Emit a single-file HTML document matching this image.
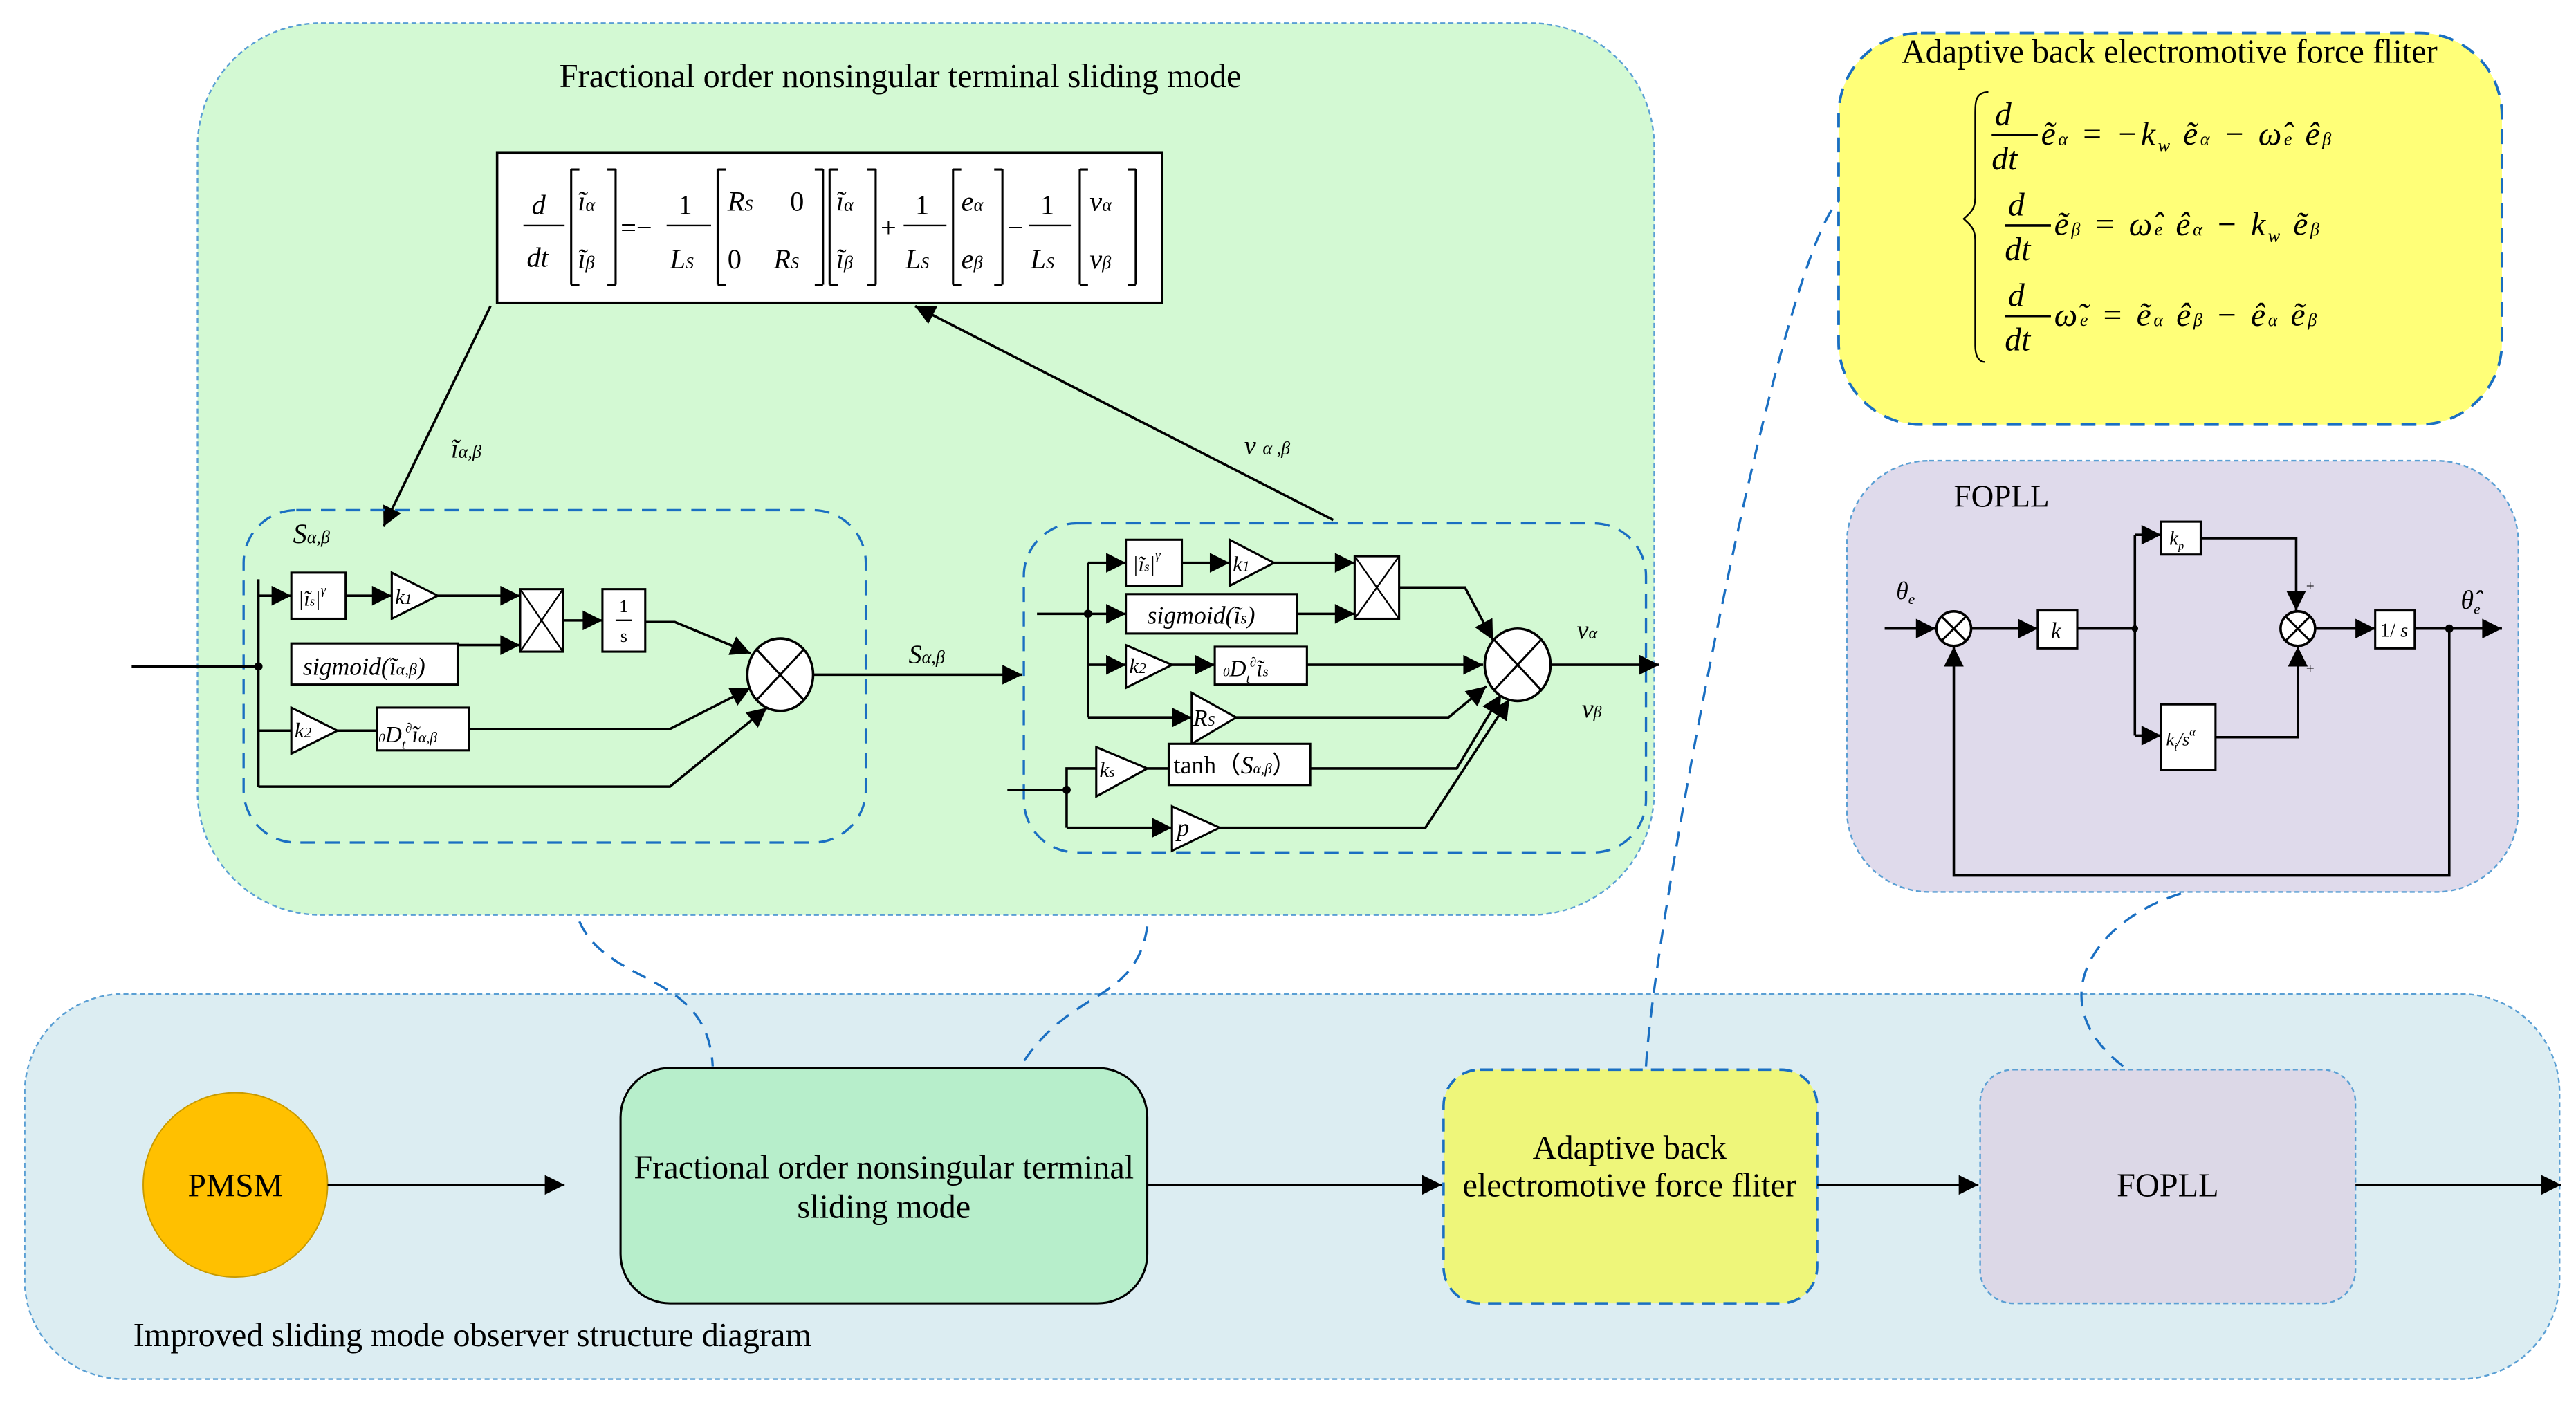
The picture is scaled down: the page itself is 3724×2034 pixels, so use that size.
<!DOCTYPE html>
<html><head><meta charset="utf-8"><style>
html,body{margin:0;padding:0;background:#fff;}
svg{display:block;}
text{font-family:"Liberation Serif",serif;fill:#000;}
.i{font-style:italic;}
</style></head><body>
<svg width="3724" height="2034" viewBox="0 0 1565 855" preserveAspectRatio="none" xmlns="http://www.w3.org/2000/svg">
<defs>
<marker id="a" viewBox="0 0 10 10" refX="10" refY="5" markerWidth="14" markerHeight="12" markerUnits="userSpaceOnUse" orient="auto"><path d="M0,0L10,5L0,10z" fill="#000"/></marker>
</defs>
<rect width="1565" height="855" fill="#fff"/>

<rect x="120" y="14" width="885" height="542" rx="75" fill="#d3f9d3" stroke="#5a9fd4" stroke-width="1" stroke-dasharray="3,2"/>
<rect x="1117" y="20" width="403" height="238" rx="50" fill="#ffff78" stroke="#1a6fc2" stroke-width="1.6" stroke-dasharray="9,6"/>
<rect x="1122" y="280" width="408" height="262" rx="50" fill="#dfdaeb" stroke="#5a9fd4" stroke-width="1" stroke-dasharray="3,2"/>
<rect x="15" y="604" width="1540" height="234" rx="60" fill="#dcedf2" stroke="#5a9fd4" stroke-width="1" stroke-dasharray="3,2"/>

<g fill="none" stroke="#1a6fc2" stroke-width="1.4" stroke-dasharray="9,6">
<path d="M352,560 C370,600 430,590 433,648"/>
<path d="M697,563 C690,610 650,600 620,648"/>
<path d="M1000,648 C1005,560 1080,160 1117,122"/>
<path d="M1325,543 C1270,560 1240,610 1290,648"/>
</g>

<text x="547" y="53" font-size="20.3" text-anchor="middle">Fractional order nonsingular terminal sliding mode</text>

<rect x="302" y="93" width="404" height="91" fill="#fff" stroke="#000" stroke-width="1.5"/>
<g font-size="17">
<text x="323" y="130" class="i">d</text><line x1="318" y1="137" x2="343" y2="137" stroke="#000"/><text x="320" y="162" class="i">dt</text>
<path d="M347,103v70M347,103h5M347,173h5M374,103v70M374,103h-5M374,173h-5" stroke="#000" fill="none" stroke-width="1.3"/>
<text x="351" y="128" class="i">ĩ<tspan font-size="11">α</tspan></text><text x="351" y="163" class="i">ĩ<tspan font-size="11">β</tspan></text>
<text x="377" y="144">=−</text>
<text x="412" y="130">1</text><line x1="405" y1="137" x2="432" y2="137" stroke="#000"/><text x="407" y="163" class="i">L<tspan font-size="10">S</tspan></text>
<path d="M436,103v70M436,103h5M436,173h5M500,103v70M500,103h-5M500,173h-5" stroke="#000" fill="none" stroke-width="1.3"/>
<text x="442" y="128" class="i">R<tspan font-size="10">S</tspan></text><text x="480" y="128">0</text>
<text x="442" y="163">0</text><text x="470" y="163" class="i">R<tspan font-size="10">S</tspan></text>
<path d="M504,103v70M504,103h5M504,173h5M532,103v70M532,103h-5M532,173h-5" stroke="#000" fill="none" stroke-width="1.3"/>
<text x="508" y="128" class="i">ĩ<tspan font-size="11">α</tspan></text><text x="508" y="163" class="i">ĩ<tspan font-size="11">β</tspan></text>
<text x="535" y="144">+</text>
<text x="556" y="130">1</text><line x1="549" y1="137" x2="575" y2="137" stroke="#000"/><text x="550" y="163" class="i">L<tspan font-size="10">S</tspan></text>
<path d="M579,103v70M579,103h5M579,173h5M609,103v70M609,103h-5M609,173h-5" stroke="#000" fill="none" stroke-width="1.3"/>
<text x="584" y="128" class="i">e<tspan font-size="11">α</tspan></text><text x="584" y="163" class="i">e<tspan font-size="11">β</tspan></text>
<text x="612" y="144">−</text>
<text x="632" y="130">1</text><line x1="625" y1="137" x2="651" y2="137" stroke="#000"/><text x="626" y="163" class="i">L<tspan font-size="10">S</tspan></text>
<path d="M656,103v70M656,103h5M656,173h5M690,103v70M690,103h-5M690,173h-5" stroke="#000" fill="none" stroke-width="1.3"/>
<text x="662" y="128" class="i">v<tspan font-size="11">α</tspan></text><text x="662" y="163" class="i">v<tspan font-size="11">β</tspan></text>
</g>

<g stroke="#000" stroke-width="1.5" fill="none">
<line x1="298" y1="186" x2="233" y2="320" marker-end="url(#a)"/>
<line x1="810" y1="316" x2="556" y2="186" marker-end="url(#a)"/>
</g>
<text x="274" y="278" font-size="16" class="i">ĩ<tspan font-size="11">α,β</tspan></text>
<text x="756" y="276" font-size="16" class="i">v<tspan font-size="11" dx="4">α ,β</tspan></text>

<rect x="148" y="310" width="378" height="202" rx="32" fill="none" stroke="#1a6fc2" stroke-width="1.4" stroke-dasharray="9,6"/>
<text x="178" y="330" font-size="17" class="i">S<tspan font-size="11">α,β</tspan></text>
<g stroke="#000" stroke-width="1.5" fill="none">
<line x1="80" y1="405" x2="157" y2="405"/>
<line x1="157" y1="352" x2="157" y2="478"/>
<line x1="157" y1="362" x2="177" y2="362" marker-end="url(#a)"/>
<line x1="210" y1="362" x2="238" y2="362" marker-end="url(#a)"/>
<line x1="266" y1="362" x2="316" y2="362" marker-end="url(#a)"/>
<line x1="278" y1="392" x2="316" y2="392" marker-end="url(#a)"/>
<line x1="342" y1="377" x2="366" y2="377" marker-end="url(#a)"/>
<polyline points="392,378 410,378 456,397" marker-end="url(#a)"/>
<line x1="157" y1="444" x2="177" y2="444"/>
<line x1="205" y1="444" x2="229" y2="444"/>
<polyline points="285,443 407,443 456,418" marker-end="url(#a)"/>
<polyline points="157,478 407,478 466,430" marker-end="url(#a)"/>
<line x1="494" y1="410" x2="621" y2="410" marker-end="url(#a)"/>
</g>
<circle cx="157" cy="405" r="2.5" fill="#000"/>
<rect x="177" y="348" width="33" height="28" fill="#fff" stroke="#000" stroke-width="1.3"/>
<text x="181" y="368" font-size="13" class="i">|ĩ<tspan font-size="8">s</tspan>|<tspan font-size="8" dy="-7">γ</tspan></text>
<path d="M238,348L266,362L238,376z" fill="#fff" stroke="#000" stroke-width="1.3"/>
<text x="240" y="367" font-size="13" class="i">k<tspan font-size="9">1</tspan></text>
<rect x="316" y="358" width="26" height="38" fill="#fff" stroke="#000" stroke-width="1.3"/>
<path d="M316,358L342,396M342,358L316,396" stroke="#000"/>
<rect x="366" y="358" width="26" height="38" fill="#fff" stroke="#000" stroke-width="1.3"/>
<text x="379" y="372" font-size="11" text-anchor="middle">1</text><line x1="374" y1="377" x2="384" y2="377" stroke="#000"/><text x="379" y="390" font-size="11" text-anchor="middle">s</text>
<rect x="177" y="391" width="101" height="25" fill="#fff" stroke="#000" stroke-width="1.3"/>
<text x="184" y="410" font-size="15" class="i">sigmoid(ĩ<tspan font-size="10">α,β</tspan>)</text>
<path d="M177,430L205,444L177,458z" fill="#fff" stroke="#000" stroke-width="1.3"/>
<text x="179" y="448" font-size="13" class="i">k<tspan font-size="9">2</tspan></text>
<rect x="229" y="430" width="56" height="26" fill="#fff" stroke="#000" stroke-width="1.3"/>
<text x="230" y="451" font-size="14" class="i"><tspan font-size="8">0</tspan>D<tspan font-size="8" dy="4">t</tspan><tspan font-size="8" dy="-10">∂</tspan><tspan dy="6">ĩ</tspan><tspan font-size="9">α,β</tspan></text>
<ellipse cx="474" cy="410" rx="20" ry="22" fill="#fff" stroke="#000" stroke-width="1.5"/>
<path d="M460,395L488,425M488,395L460,425" stroke="#000" stroke-width="1.3"/>
<text x="552" y="403" font-size="16" class="i">S<tspan font-size="11">α,β</tspan></text>

<rect x="622" y="318" width="378" height="200" rx="32" fill="none" stroke="#1a6fc2" stroke-width="1.4" stroke-dasharray="9,6"/>
<g stroke="#000" stroke-width="1.5" fill="none">
<line x1="630" y1="373" x2="661" y2="373"/>
<line x1="661" y1="342" x2="661" y2="436"/>
<line x1="661" y1="342" x2="684" y2="342" marker-end="url(#a)"/>
<line x1="718" y1="342" x2="747" y2="342" marker-end="url(#a)"/>
<line x1="774" y1="342" x2="823" y2="342" marker-end="url(#a)"/>
<line x1="661" y1="373" x2="684" y2="373" marker-end="url(#a)"/>
<line x1="788" y1="373" x2="823" y2="373" marker-end="url(#a)"/>
<polyline points="850,357 890,357 907,389" marker-end="url(#a)"/>
<line x1="661" y1="404" x2="684" y2="404" marker-end="url(#a)"/>
<line x1="712" y1="404" x2="738" y2="404" marker-end="url(#a)"/>
<line x1="794" y1="404" x2="901" y2="404" marker-end="url(#a)"/>
<line x1="661" y1="436" x2="724" y2="436" marker-end="url(#a)"/>
<polyline points="751,436 880,436 903,417" marker-end="url(#a)"/>
<line x1="612" y1="480" x2="648" y2="480"/>
<polyline points="648,480 648,467 666,467"/>
<line x1="697" y1="467" x2="710" y2="467"/>
<polyline points="796,467 885,467 912,422" marker-end="url(#a)"/>
<line x1="648" y1="480" x2="648" y2="503"/>
<line x1="648" y1="503" x2="712" y2="503" marker-end="url(#a)"/>
<polyline points="741,503 866,503 917,425" marker-end="url(#a)"/>
<line x1="942" y1="404" x2="1008" y2="404" marker-end="url(#a)"/>
</g>
<circle cx="661" cy="373" r="2.5" fill="#000"/>
<circle cx="648" cy="480" r="2.5" fill="#000"/>
<rect x="684" y="328" width="34" height="28" fill="#fff" stroke="#000" stroke-width="1.3"/>
<text x="688" y="347" font-size="13" class="i">|ĩ<tspan font-size="8">s</tspan>|<tspan font-size="8" dy="-7">γ</tspan></text>
<path d="M747,328L774,342L747,356z" fill="#fff" stroke="#000" stroke-width="1.3"/>
<text x="749" y="347" font-size="13" class="i">k<tspan font-size="9">1</tspan></text>
<rect x="823" y="338" width="27" height="38" fill="#fff" stroke="#000" stroke-width="1.3"/>
<path d="M823,338L850,376M850,338L823,376" stroke="#000"/>
<rect x="684" y="361" width="104" height="24" fill="#fff" stroke="#000" stroke-width="1.3"/>
<text x="697" y="379" font-size="15" class="i">sigmoid(ĩ<tspan font-size="10">s</tspan>)</text>
<path d="M684,392L712,404L684,418z" fill="#fff" stroke="#000" stroke-width="1.3"/>
<text x="686" y="409" font-size="13" class="i">k<tspan font-size="9">2</tspan></text>
<rect x="738" y="393" width="56" height="23" fill="#fff" stroke="#000" stroke-width="1.3"/>
<text x="743" y="411" font-size="14" class="i"><tspan font-size="8">0</tspan>D<tspan font-size="8" dy="4">t</tspan><tspan font-size="8" dy="-10">∂</tspan><tspan dy="6">ĩ</tspan><tspan font-size="9">s</tspan></text>
<path d="M724,421L751,436L724,452z" fill="#fff" stroke="#000" stroke-width="1.3"/>
<text x="725" y="441" font-size="14" class="i">R<tspan font-size="9">S</tspan></text>
<path d="M666,454L697,467L666,484z" fill="#fff" stroke="#000" stroke-width="1.3"/>
<text x="668" y="472" font-size="13" class="i">k<tspan font-size="9">s</tspan></text>
<rect x="710" y="452" width="86" height="25" fill="#fff" stroke="#000" stroke-width="1.3"/>
<text x="713" y="470" font-size="15">tanh（<tspan class="i">S</tspan><tspan font-size="9" class="i">α,β</tspan>）</text>
<path d="M712,490L741,503L712,517z" fill="#fff" stroke="#000" stroke-width="1.3"/>
<text x="715" y="508" font-size="15" class="i">p</text>
<ellipse cx="922" cy="404" rx="20" ry="22" fill="#fff" stroke="#000" stroke-width="1.5"/>
<path d="M908,389L936,419M936,389L908,419" stroke="#000" stroke-width="1.3"/>
<text x="958" y="388" font-size="16" class="i">v<tspan font-size="10">α</tspan></text>
<text x="961" y="436" font-size="16" class="i">v<tspan font-size="10">β</tspan></text>

<text x="1318" y="38" font-size="20.3" text-anchor="middle">Adaptive back electromotive force fliter</text>
<path d="M1208,56 C1200,56 1200,62 1200,70 L1200,120 C1200,128 1196,130 1193,133 C1196,136 1200,138 1200,146 L1200,210 C1200,216 1202,220 1206,220" fill="none" stroke="#000" stroke-width="1"/>
<g font-size="20" class="i">
<text x="1212" y="76">d</text><line x1="1210" y1="82" x2="1238" y2="82" stroke="#000" stroke-width="1.5"/><text x="1210" y="103">dt</text>
<text x="1240" y="88" letter-spacing="1.5">ẽ<tspan font-size="11">α</tspan> = −k<tspan font-size="11" dy="4">w</tspan><tspan dy="-4"> ẽ</tspan><tspan font-size="11">α</tspan> − ω̂<tspan font-size="11">e</tspan> ê<tspan font-size="11">β</tspan></text>
<text x="1220" y="131">d</text><line x1="1218" y1="137" x2="1246" y2="137" stroke="#000" stroke-width="1.5"/><text x="1218" y="158">dt</text>
<text x="1248" y="143" letter-spacing="1.5">ẽ<tspan font-size="11">β</tspan> = ω̂<tspan font-size="11">e</tspan> ê<tspan font-size="11">α</tspan> − k<tspan font-size="11" dy="4">w</tspan><tspan dy="-4"> ẽ</tspan><tspan font-size="11">β</tspan></text>
<text x="1220" y="186">d</text><line x1="1218" y1="192" x2="1246" y2="192" stroke="#000" stroke-width="1.5"/><text x="1218" y="213">dt</text>
<text x="1248" y="198" letter-spacing="1.5">ω̃<tspan font-size="11">e</tspan> = ẽ<tspan font-size="11">α</tspan> ê<tspan font-size="11">β</tspan> − ê<tspan font-size="11">α</tspan> ẽ<tspan font-size="11">β</tspan></text>
</g>

<text x="1187" y="308" font-size="19">FOPLL</text>
<text x="1152" y="364" font-size="15" class="i">θ<tspan font-size="9" dy="3">e</tspan></text>
<g stroke="#000" stroke-width="1.5" fill="none">
<line x1="1145" y1="382" x2="1176" y2="382" marker-end="url(#a)"/>
<line x1="1198" y1="382" x2="1238" y2="382" marker-end="url(#a)"/>
<line x1="1262" y1="382" x2="1297" y2="382"/>
<line x1="1297" y1="325" x2="1297" y2="447"/>
<line x1="1297" y1="325" x2="1313" y2="325" marker-end="url(#a)"/>
<line x1="1297" y1="447" x2="1313" y2="447" marker-end="url(#a)"/>
<polyline points="1337,327 1395,327 1395,371" marker-end="url(#a)"/>
<polyline points="1346,448 1396,448 1396,393" marker-end="url(#a)"/>
<line x1="1407" y1="382" x2="1443" y2="382" marker-end="url(#a)"/>
<line x1="1467" y1="382" x2="1520" y2="382" marker-end="url(#a)"/>
<polyline points="1488,382 1488,532 1187,532 1187,393" marker-end="url(#a)"/>
</g>
<circle cx="1297" cy="382" r="2" fill="#000"/>
<circle cx="1488" cy="382" r="2.5" fill="#000"/>
<circle cx="1187" cy="382" r="10.5" fill="#fff" stroke="#000" stroke-width="1.5"/>
<path d="M1180,375L1194,389M1194,375L1180,389" stroke="#000" stroke-width="1.3"/>
<circle cx="1396" cy="382" r="10.5" fill="#fff" stroke="#000" stroke-width="1.5"/>
<path d="M1389,375L1403,389M1403,375L1389,389" stroke="#000" stroke-width="1.3"/>
<text x="1401" y="359" font-size="9">+</text><text x="1401" y="409" font-size="9">+</text>
<rect x="1238" y="371" width="24" height="23" fill="#fff" stroke="#000" stroke-width="1.3"/>
<text x="1246" y="388" font-size="14" class="i">k</text>
<rect x="1313" y="317" width="24" height="20" fill="#fff" stroke="#000" stroke-width="1.3"/>
<text x="1318" y="331" font-size="12" class="i">k<tspan font-size="7" dy="3">p</tspan></text>
<rect x="1313" y="428" width="33" height="40" fill="#fff" stroke="#000" stroke-width="1.3"/>
<text x="1316" y="453" font-size="11" class="i">k<tspan font-size="7" dy="3">i</tspan><tspan dy="-3">/s</tspan><tspan font-size="7" dy="-6">α</tspan></text>
<rect x="1443" y="371" width="24" height="23" fill="#fff" stroke="#000" stroke-width="1.3"/>
<text x="1446" y="387" font-size="12">1/ <tspan class="i">s</tspan></text>
<text x="1495" y="370" font-size="16" class="i">θ̂<tspan font-size="9" dy="3">e</tspan></text>

<circle cx="143" cy="720" r="56" fill="#ffc000" stroke="#c89a00" stroke-width="0.8"/>
<text x="143" y="727" font-size="20" text-anchor="middle">PMSM</text>
<rect x="377" y="649" width="320" height="143" rx="30" fill="#b7eecb" stroke="#000" stroke-width="1.3"/>
<text x="537" y="716" font-size="20.3" text-anchor="middle">Fractional order nonsingular terminal</text>
<text x="537" y="740" font-size="20.3" text-anchor="middle">sliding mode</text>
<rect x="877" y="650" width="227" height="142" rx="22" fill="#eef67a" stroke="#1a6fc2" stroke-width="1.5" stroke-dasharray="8,5"/>
<text x="990" y="704" font-size="20.3" text-anchor="middle">Adaptive back</text>
<text x="990" y="727" font-size="20.3" text-anchor="middle">electromotive force fliter</text>
<rect x="1203" y="650" width="228" height="142" rx="20" fill="#dcd8e7" stroke="#5a9fd4" stroke-width="1" stroke-dasharray="3,2"/>
<text x="1317" y="727" font-size="20.3" text-anchor="middle">FOPLL</text>
<g stroke="#000" stroke-width="1.6">
<line x1="199" y1="720" x2="343" y2="720" marker-end="url(#a)"/>
<line x1="697" y1="720" x2="876" y2="720" marker-end="url(#a)"/>
<line x1="1104" y1="720" x2="1202" y2="720" marker-end="url(#a)"/>
<line x1="1431" y1="720" x2="1556" y2="720" marker-end="url(#a)"/>
</g>
<text x="81" y="818" font-size="20.3">Improved sliding mode observer structure diagram</text>
</svg>
</body></html>
